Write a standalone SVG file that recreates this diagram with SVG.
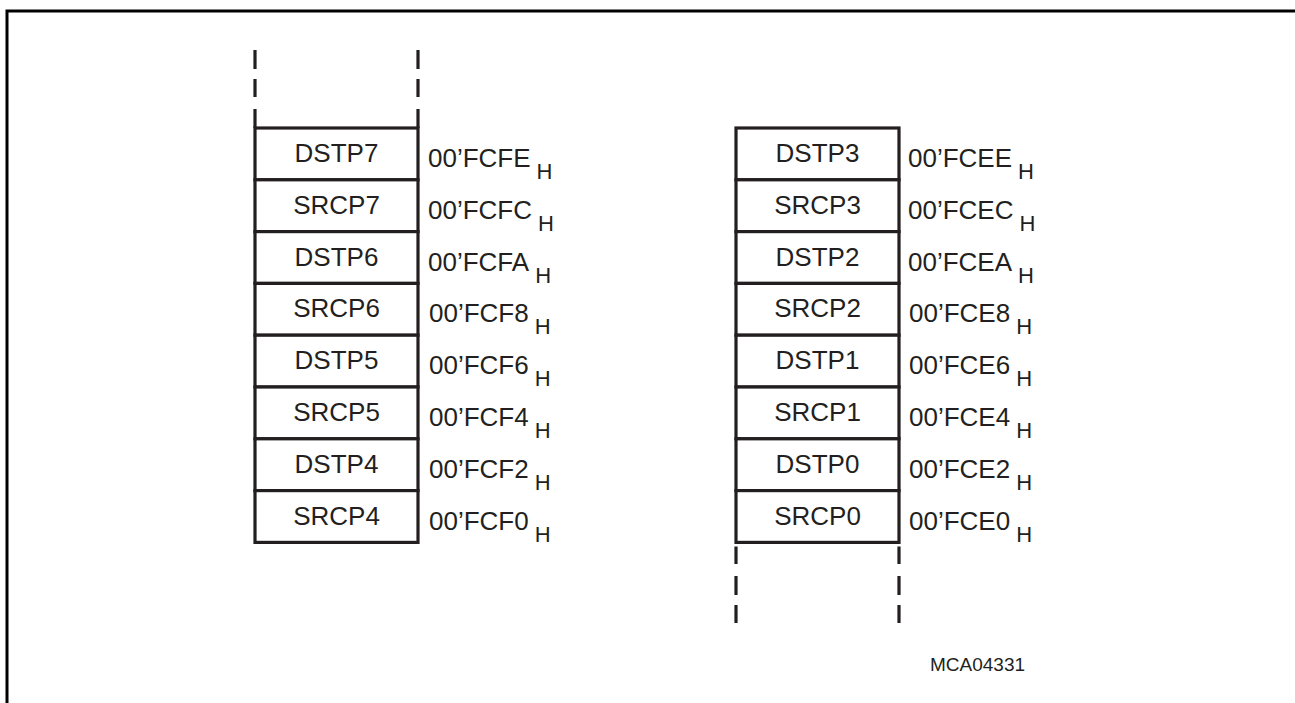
<svg xmlns="http://www.w3.org/2000/svg" width="1295" height="703" viewBox="0 0 1295 703">
<style>
.frame{fill:none;stroke:#000;stroke-width:3}
.cell{fill:#fff;stroke:#231f20;stroke-width:3.2}
.dash{stroke:#231f20;stroke-width:3.2;fill:none}
.lbl{font-family:"Liberation Sans",Arial,sans-serif;font-size:26px;fill:#231f20;text-anchor:middle}
.adr{font-family:"Liberation Sans",Arial,sans-serif;font-size:26px;fill:#231f20}
.sub{font-size:22px}
.id{font-family:"Liberation Sans",Arial,sans-serif;font-size:19px;fill:#231f20}
</style>
<rect width="1295" height="703" fill="#fff"/>
<polyline class="frame" points="7,703 7,11 1295,11"/>
<g id="connectors">
<path class="dash" d="M255,50V69M255,79V97M255,109V128M418,50V69M418,79V97M418,109V128"/>
<path class="dash" d="M736,546.5V564M736,576V595M736,605V623M899,546.5V564M899,576V595M899,605V623"/>
</g>
<g id="left-stack">
<g id="DSTP7"><rect class="cell" x="255" y="128" width="163" height="51.8"/><text class="lbl" x="336.5" y="161.9">DSTP7</text><text class="adr" x="428" y="166.9">00’FCFE<tspan class="sub" dx="6" dy="12">H</tspan></text></g>
<g id="SRCP7"><rect class="cell" x="255" y="179.8" width="163" height="51.8"/><text class="lbl" x="336.5" y="213.7">SRCP7</text><text class="adr" x="428" y="218.7">00’FCFC<tspan class="sub" dx="6" dy="12">H</tspan></text></g>
<g id="DSTP6"><rect class="cell" x="255" y="231.6" width="163" height="51.8"/><text class="lbl" x="336.5" y="265.5">DSTP6</text><text class="adr" x="428" y="270.5">00’FCFA<tspan class="sub" dx="6" dy="12">H</tspan></text></g>
<g id="SRCP6"><rect class="cell" x="255" y="283.4" width="163" height="51.8"/><text class="lbl" x="336.5" y="317.3">SRCP6</text><text class="adr" x="429" y="322.3">00’FCF8<tspan class="sub" dx="6" dy="12">H</tspan></text></g>
<g id="DSTP5"><rect class="cell" x="255" y="335.2" width="163" height="51.8"/><text class="lbl" x="336.5" y="369.1">DSTP5</text><text class="adr" x="429" y="374.1">00’FCF6<tspan class="sub" dx="6" dy="12">H</tspan></text></g>
<g id="SRCP5"><rect class="cell" x="255" y="387" width="163" height="51.8"/><text class="lbl" x="336.5" y="420.9">SRCP5</text><text class="adr" x="429" y="425.9">00’FCF4<tspan class="sub" dx="6" dy="12">H</tspan></text></g>
<g id="DSTP4"><rect class="cell" x="255" y="438.8" width="163" height="51.8"/><text class="lbl" x="336.5" y="472.7">DSTP4</text><text class="adr" x="429" y="477.7">00’FCF2<tspan class="sub" dx="6" dy="12">H</tspan></text></g>
<g id="SRCP4"><rect class="cell" x="255" y="490.6" width="163" height="51.8"/><text class="lbl" x="336.5" y="524.5">SRCP4</text><text class="adr" x="429" y="529.5">00’FCF0<tspan class="sub" dx="6" dy="12">H</tspan></text></g>
</g>
<g id="right-stack">
<g id="DSTP3"><rect class="cell" x="736" y="128" width="163" height="51.8"/><text class="lbl" x="817.5" y="161.9">DSTP3</text><text class="adr" x="908" y="166.9">00’FCEE<tspan class="sub" dx="6" dy="12">H</tspan></text></g>
<g id="SRCP3"><rect class="cell" x="736" y="179.8" width="163" height="51.8"/><text class="lbl" x="817.5" y="213.7">SRCP3</text><text class="adr" x="908" y="218.7">00’FCEC<tspan class="sub" dx="6" dy="12">H</tspan></text></g>
<g id="DSTP2"><rect class="cell" x="736" y="231.6" width="163" height="51.8"/><text class="lbl" x="817.5" y="265.5">DSTP2</text><text class="adr" x="908" y="270.5">00’FCEA<tspan class="sub" dx="6" dy="12">H</tspan></text></g>
<g id="SRCP2"><rect class="cell" x="736" y="283.4" width="163" height="51.8"/><text class="lbl" x="817.5" y="317.3">SRCP2</text><text class="adr" x="909" y="322.3">00’FCE8<tspan class="sub" dx="6" dy="12">H</tspan></text></g>
<g id="DSTP1"><rect class="cell" x="736" y="335.2" width="163" height="51.8"/><text class="lbl" x="817.5" y="369.1">DSTP1</text><text class="adr" x="909" y="374.1">00’FCE6<tspan class="sub" dx="6" dy="12">H</tspan></text></g>
<g id="SRCP1"><rect class="cell" x="736" y="387" width="163" height="51.8"/><text class="lbl" x="817.5" y="420.9">SRCP1</text><text class="adr" x="909" y="425.9">00’FCE4<tspan class="sub" dx="6" dy="12">H</tspan></text></g>
<g id="DSTP0"><rect class="cell" x="736" y="438.8" width="163" height="51.8"/><text class="lbl" x="817.5" y="472.7">DSTP0</text><text class="adr" x="909" y="477.7">00’FCE2<tspan class="sub" dx="6" dy="12">H</tspan></text></g>
<g id="SRCP0"><rect class="cell" x="736" y="490.6" width="163" height="51.8"/><text class="lbl" x="817.5" y="524.5">SRCP0</text><text class="adr" x="909" y="529.5">00’FCE0<tspan class="sub" dx="6" dy="12">H</tspan></text></g>
</g>
<text id="figure-id" class="id" x="930" y="670.5">MCA04331</text>
</svg>
